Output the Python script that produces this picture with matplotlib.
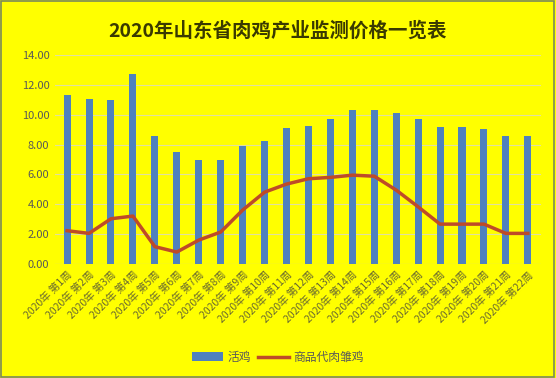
import matplotlib.pyplot as plt
from matplotlib.patches import Rectangle

plt.rcParams['font.family'] = ['Noto Sans CJK SC', 'DejaVu Sans']

# 周次
weeks = ['2020年 第%d周' % i for i in range(1, 23)]

# 活鸡价格
live_chicken = [11.30, 11.04, 10.97, 12.71, 8.56, 7.49, 6.96, 6.96, 7.90, 8.23, 9.10,
                9.23, 9.70, 10.30, 10.30, 10.10, 9.70, 9.16, 9.16, 9.03, 8.56, 8.56]

# 商品代肉雏鸡价格
chick = [2.23, 2.05, 3.03, 3.21, 1.16, 0.80, 1.60, 2.14, 3.61, 4.81, 5.35,
         5.71, 5.80, 5.95, 5.88, 4.95, 3.83, 2.67, 2.67, 2.67, 2.05, 2.05]

yticks = [0, 2, 4, 6, 8, 10, 12, 14]

fig = plt.figure(figsize=(5.56, 3.78), dpi=100, facecolor='#FFFF00')
ax = fig.add_axes([0.099, 0.3016, 0.874, 0.553])
ax.set_facecolor('#FFFF00')

x = list(range(len(weeks)))
bars = ax.bar(x, live_chicken, width=0.32, color='#4F81BD', label='活鸡', zorder=2)
line, = ax.plot(x, chick, color='#BE4B28', linewidth=2.5, label='商品代肉雏鸡', zorder=3)

ax.set_ylim(0, 14)
ax.set_xlim(-0.55, 21.6)
ax.set_yticks(yticks)
ax.set_yticklabels(['%.2f' % v for v in yticks], fontsize=8, color='#595959')
ax.set_xticks(x)
ax.set_xticklabels(weeks, rotation=45, ha='right', rotation_mode='anchor',
                   fontsize=7.5, color='#6A6A30')
ax.tick_params(length=0, pad=4)
ax.grid(axis='y', color='#E0E0A0', linewidth=0.8, zorder=0)
for s in ax.spines.values():
    s.set_visible(False)
ax.axhline(0, color='#D9D9A0', linewidth=0.8, zorder=1)

fig.suptitle('2020年山东省肉鸡产业监测价格一览表', y=0.945, fontsize=14,
             fontweight='bold', color='#3A3A00')

fig.legend([bars, line], ['活鸡', '商品代肉雏鸡'], loc='center',
           bbox_to_anchor=(0.5, 0.055), ncol=2, frameon=False,
           fontsize=8.5, handlelength=2.6, columnspacing=0.6, handletextpad=0.4,
           labelcolor='#595959')

fig.patches.append(Rectangle((0.002, 0.003), 0.995, 0.994, transform=fig.transFigure,
                             fill=False, edgecolor='#7A8A5A', linewidth=1.2))

plt.savefig('out.png', dpi=100, facecolor=fig.get_facecolor())
